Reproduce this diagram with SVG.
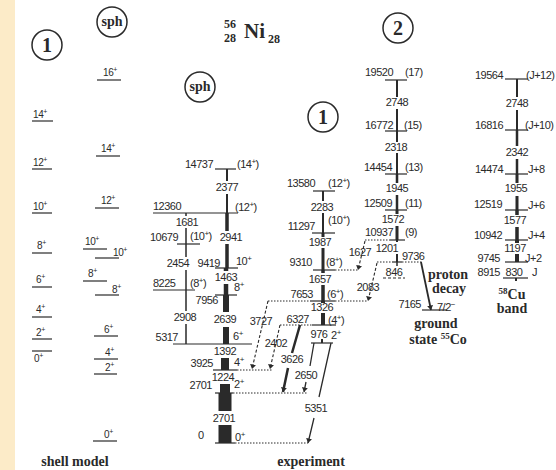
<svg xmlns="http://www.w3.org/2000/svg" width="556" height="470" viewBox="0 0 556 470">
<defs>
<style>
.t{font-family:"Liberation Sans",Arial,sans-serif;font-size:11px;fill:#2a2a2a;letter-spacing:-0.5px}
.s{font-family:"Liberation Sans",Arial,sans-serif;font-size:10px;fill:#2a2a2a;letter-spacing:-0.4px}
.b{font-family:"Liberation Serif","Times New Roman",serif;font-weight:bold;font-size:14px;fill:#2a2a2a}
.m{text-anchor:middle}
.e{text-anchor:end}
.lv{stroke:#2a2a2a;stroke-width:1.2;fill:none}
.dt{stroke:#2a2a2a;stroke-width:1;stroke-dasharray:1.5 1.5;fill:none}
.ds{stroke:#2a2a2a;stroke-width:1.1;stroke-dasharray:3 2;fill:none}
.tr{stroke:#2a2a2a;fill:none}
.c{fill:none;stroke:#2a2a2a;stroke-width:1.5}
</style>
<marker id="ah" viewBox="0 0 6 8" refX="6" refY="4" markerWidth="5" markerHeight="6" markerUnits="userSpaceOnUse" orient="auto"><path d="M0,0L6,4L0,8z" fill="#2a2a2a"/></marker>
</defs>
<rect width="556" height="470" fill="#ffffff"/>
<rect width="15" height="470" fill="#fcebc8"/>

<!-- title -->
<g id="title">
<text class="b" x="224" y="28" style="font-size:12px">56</text>
<text class="b" x="224" y="42" style="font-size:12px">28</text>
<text class="b" x="244" y="38" style="font-size:21px">Ni</text>
<text class="b" x="268" y="43" style="font-size:12px">28</text>
</g>

<!-- circles -->
<g id="circle-1-left"><circle class="c" cx="47" cy="45" r="15"/><text class="b m" x="47" y="52" style="font-size:20px">1</text></g>
<g id="circle-sph-shell"><circle class="c" cx="112" cy="22" r="15"/><text class="b m" x="112" y="26" style="font-size:14px">sph</text></g>
<g id="circle-sph-exp"><circle class="c" cx="200" cy="87" r="15"/><text class="b m" x="200" y="91" style="font-size:14px">sph</text></g>
<g id="circle-1-exp"><circle class="c" cx="323" cy="117" r="15"/><text class="b m" x="323" y="124" style="font-size:20px">1</text></g>
<g id="circle-2"><circle class="c" cx="398" cy="28" r="15"/><text class="b m" x="398" y="35" style="font-size:20px">2</text></g>

<!-- shell model column 1 -->
<g id="sm1">
<g id="sm1-14"><line class="lv" x1="32" y1="121" x2="53" y2="121"/><text class="s" x="33" y="118">14<tspan dy="-4" font-size="7">+</tspan></text></g>
<g id="sm1-12"><line class="lv" x1="32" y1="169" x2="52" y2="169"/><text class="s" x="33" y="166">12<tspan dy="-4" font-size="7">+</tspan></text></g>
<g id="sm1-10"><line class="lv" x1="32" y1="213" x2="52" y2="213"/><text class="s" x="33" y="210">10<tspan dy="-4" font-size="7">+</tspan></text></g>
<g id="sm1-8"><line class="lv" x1="32" y1="253" x2="52" y2="253"/><text class="s" x="37" y="249">8<tspan dy="-4" font-size="7">+</tspan></text></g>
<g id="sm1-6"><line class="lv" x1="32" y1="287" x2="52" y2="287"/><text class="s" x="36" y="283">6<tspan dy="-4" font-size="7">+</tspan></text></g>
<g id="sm1-4"><line class="lv" x1="32" y1="317" x2="52" y2="317"/><text class="s" x="36" y="313">4<tspan dy="-4" font-size="7">+</tspan></text></g>
<g id="sm1-2"><line class="lv" x1="32" y1="339" x2="52" y2="339"/><text class="s" x="36" y="336">2<tspan dy="-4" font-size="7">+</tspan></text></g>
<g id="sm1-0"><line class="lv" x1="32" y1="351" x2="52" y2="351"/><text class="s" x="34" y="362">0<tspan dy="-4" font-size="7">+</tspan></text></g>
</g>

<!-- shell model column sph -->
<g id="sm2">
<g id="sm2-16"><line class="lv" x1="97" y1="80" x2="121" y2="80"/><text class="s" x="103" y="76">16<tspan dy="-4" font-size="7">+</tspan></text></g>
<g id="sm2-14"><line class="lv" x1="96" y1="156" x2="120" y2="156"/><text class="s" x="101" y="152">14<tspan dy="-4" font-size="7">+</tspan></text></g>
<g id="sm2-12"><line class="lv" x1="95" y1="208" x2="119" y2="208"/><text class="s" x="101" y="204">12<tspan dy="-4" font-size="7">+</tspan></text></g>
<g id="sm2-10a"><line class="lv" x1="83" y1="249" x2="107" y2="249"/><text class="s" x="85" y="245">10<tspan dy="-4" font-size="7">+</tspan></text></g>
<g id="sm2-10b"><line class="lv" x1="95" y1="258" x2="119" y2="258"/><text class="s" x="113" y="256">10<tspan dy="-4" font-size="7">+</tspan></text></g>
<g id="sm2-8a"><line class="lv" x1="83" y1="281" x2="107" y2="281"/><text class="s" x="88" y="277">8<tspan dy="-4" font-size="7">+</tspan></text></g>
<g id="sm2-8b"><line class="lv" x1="95" y1="295" x2="119" y2="295"/><text class="s" x="112" y="293">8<tspan dy="-4" font-size="7">+</tspan></text></g>
<g id="sm2-6"><line class="lv" x1="94" y1="336" x2="118" y2="336"/><text class="s" x="104" y="333">6<tspan dy="-4" font-size="7">+</tspan></text></g>
<g id="sm2-4"><line class="lv" x1="94" y1="359" x2="118" y2="359"/><text class="s" x="105" y="356">4<tspan dy="-4" font-size="7">+</tspan></text></g>
<g id="sm2-2"><line class="lv" x1="94" y1="374" x2="117" y2="374"/><text class="s" x="105" y="371">2<tspan dy="-4" font-size="7">+</tspan></text></g>
<g id="sm2-0"><line class="lv" x1="93" y1="441" x2="117" y2="441"/><text class="s" x="104" y="438">0<tspan dy="-4" font-size="7">+</tspan></text></g>
</g>
<text class="b m" x="75" y="466">shell model</text>

<!-- experiment: spherical band levels -->
<g id="sph-levels">
<g id="L14737"><line class="lv" x1="215" y1="169" x2="236" y2="169"/><text class="t e" x="213" y="168">14737</text><text class="t" x="237" y="168">(14<tspan dy="-4" font-size="8">+</tspan><tspan dy="4">)</tspan></text></g>
<g id="L12360"><line class="lv" x1="153" y1="213" x2="238" y2="213"/><text class="t" x="153" y="210">12360</text><text class="t" x="235" y="211">(12<tspan dy="-4" font-size="8">+</tspan><tspan dy="4">)</tspan></text></g>
<g id="L10679"><line class="lv" x1="177" y1="244" x2="200" y2="244"/><text class="t" x="150" y="241">10679</text><text class="t" x="190" y="240">(10<tspan dy="-4" font-size="8">+</tspan><tspan dy="4">)</tspan></text></g>
<g id="L9419"><line class="lv" x1="215" y1="268" x2="238" y2="268"/><text class="t e" x="220" y="267">9419</text><text class="t" x="236" y="265">10<tspan dy="-4" font-size="8">+</tspan></text></g>
<g id="L8225"><line class="lv" x1="153" y1="290" x2="195" y2="290"/><text class="t" x="153" y="287">8225</text><text class="t" x="190" y="287">(8<tspan dy="-4" font-size="8">+</tspan><tspan dy="4">)</tspan></text></g>
<g id="L7956"><line class="lv" x1="215" y1="295" x2="237" y2="295"/><text class="t e" x="218" y="304">7956</text><text class="t" x="234" y="291">8<tspan dy="-4" font-size="8">+</tspan></text></g>
<g id="L5317"><line class="lv" x1="173" y1="344" x2="252" y2="344"/><text class="t e" x="178" y="341">5317</text><text class="t" x="233" y="340">6<tspan dy="-4" font-size="8">+</tspan></text></g>
<g id="L3925"><line class="lv" x1="213" y1="370" x2="237" y2="370"/><line class="dt" x1="237" y1="370" x2="272" y2="370"/><text class="t e" x="213" y="367">3925</text><text class="t" x="234" y="366">4<tspan dy="-4" font-size="8">+</tspan></text></g>
<g id="L2701"><line class="lv" x1="215" y1="393" x2="233" y2="393"/><line class="dt" x1="233" y1="393" x2="307" y2="393"/><text class="t e" x="212" y="389">2701</text><text class="t" x="234" y="388">2<tspan dy="-4" font-size="8">+</tspan></text></g>
<g id="L0"><line class="lv" x1="215" y1="443" x2="235" y2="443"/><line class="dt" x1="235" y1="443" x2="308" y2="443"/><text class="t" x="198" y="439">0</text><text class="t" x="235" y="441">0<tspan dy="-4" font-size="8">+</tspan></text></g>
</g>

<!-- band 1 levels -->
<g id="band1-levels">
<g id="L13580"><line class="lv" x1="313" y1="191" x2="335" y2="191"/><text class="t e" x="315" y="187">13580</text><text class="t" x="328" y="187">(12<tspan dy="-4" font-size="8">+</tspan><tspan dy="4">)</tspan></text></g>
<g id="L11297"><line class="lv" x1="312" y1="233" x2="335" y2="233"/><text class="t e" x="315" y="230">11297</text><text class="t" x="328" y="224">(10<tspan dy="-4" font-size="8">+</tspan><tspan dy="4">)</tspan></text></g>
<g id="L9310"><line class="lv" x1="313" y1="270" x2="335" y2="270"/><line class="dt" x1="335" y1="270" x2="358" y2="270"/><text class="t e" x="312" y="266">9310</text><text class="t" x="326" y="266">(8<tspan dy="-4" font-size="8">+</tspan><tspan dy="4">)</tspan></text></g>
<g id="L7653"><line class="dt" x1="268" y1="301" x2="310" y2="301"/><line class="lv" x1="310" y1="301" x2="335" y2="301"/><line class="dt" x1="335" y1="301" x2="368" y2="301"/><text class="t e" x="313" y="298">7653</text><text class="t" x="327" y="298">(6<tspan dy="-4" font-size="8">+</tspan><tspan dy="4">)</tspan></text></g>
<g id="L6327"><line class="dt" x1="280" y1="325" x2="312" y2="325"/><line class="lv" x1="312" y1="325" x2="336" y2="325"/><text class="t e" x="309" y="323">6327</text><text class="t" x="328" y="324">(4<tspan dy="-4" font-size="8">+</tspan><tspan dy="4">)</tspan></text></g>
<g id="L5351"><line class="lv" x1="311" y1="343" x2="333" y2="343"/><text class="t m" x="319" y="338">976</text><text class="t" x="331" y="339">2<tspan dy="-4" font-size="8">+</tspan></text></g>
</g>

<!-- band 2 levels -->
<g id="band2-levels">
<g id="L19520"><line class="lv" x1="385" y1="80" x2="407" y2="80"/><text class="t e" x="393" y="76">19520</text><text class="t" x="405" y="76">(17)</text></g>
<g id="L16772"><line class="lv" x1="385" y1="131" x2="407" y2="131"/><text class="t e" x="393" y="129">16772</text><text class="t" x="404" y="129">(15)</text></g>
<g id="L14454"><line class="lv" x1="385" y1="174" x2="407" y2="174"/><text class="t e" x="392" y="171">14454</text><text class="t" x="405" y="171">(13)</text></g>
<g id="L12509"><line class="lv" x1="385" y1="210" x2="407" y2="210"/><text class="t e" x="392" y="207">12509</text><text class="t" x="405" y="207">(11)</text></g>
<g id="L10937"><line class="dt" x1="365" y1="240" x2="390" y2="240"/><line class="lv" x1="390" y1="240" x2="405" y2="240"/><text class="t e" x="393" y="236">10937</text><text class="t" x="405" y="236">(9)</text></g>
<g id="L9736"><line class="dt" x1="377" y1="262" x2="392" y2="262"/><line class="lv" x1="392" y1="262" x2="402" y2="262"/><line class="dt" x1="402" y1="262" x2="422" y2="262"/><text class="t" x="402" y="260">9736</text></g>
<g id="L8890"><line class="ds" x1="383" y1="278" x2="405" y2="278"/><text class="t m" x="394" y="276">846</text></g>
<g id="L7165"><line class="lv" x1="422" y1="310" x2="447" y2="310"/><text class="t e" x="421" y="308">7165</text><text class="t" x="437" y="311">7/2<tspan dy="-4" font-size="8">−</tspan></text></g>
</g>
<text class="b m" x="448" y="279">proton</text>
<text class="b m" x="449" y="293">decay</text>
<text class="b m" x="436" y="328">ground</text>
<text class="b m" x="438" y="344">state <tspan dy="-5" font-size="9">55</tspan><tspan dy="5">Co</tspan></text>

<!-- Cu band levels -->
<g id="cu-levels">
<g id="L19564"><line class="lv" x1="505" y1="79" x2="528" y2="79"/><text class="t e" x="503" y="79">19564</text><text class="t" x="526" y="79">(J+12)</text></g>
<g id="L16816"><line class="lv" x1="505" y1="130" x2="528" y2="130"/><text class="t e" x="503" y="129">16816</text><text class="t" x="525" y="129">(J+10)</text></g>
<g id="L14474"><line class="lv" x1="505" y1="174" x2="528" y2="174"/><text class="t e" x="503" y="173">14474</text><text class="t" x="528" y="173">J+8</text></g>
<g id="L12519"><line class="lv" x1="505" y1="210" x2="528" y2="210"/><text class="t e" x="502" y="208">12519</text><text class="t" x="528" y="209">J+6</text></g>
<g id="L10942"><line class="lv" x1="505" y1="240" x2="528" y2="240"/><text class="t e" x="502" y="239">10942</text><text class="t" x="528" y="239">J+4</text></g>
<g id="L9745"><line class="lv" x1="505" y1="262" x2="528" y2="262"/><text class="t e" x="500" y="262">9745</text><text class="t" x="525" y="262">J+2</text></g>
<g id="L8915"><line class="lv" x1="503" y1="278" x2="528" y2="278"/><text class="t e" x="500" y="276">8915</text><text class="t" x="532" y="276">J</text></g>
</g>
<text class="b m" x="512" y="299"><tspan dy="-5" font-size="9">58</tspan><tspan dy="5">Cu</tspan></text>
<text class="b m" x="512" y="313">band</text>
<text class="b m" x="311" y="466">experiment</text>

<!-- connectors (transitions) -->
<g id="connectors">
<path class="tr" stroke-width="2" d="M227,169V181M227,194V213"/>
<path class="tr" stroke-width="3.5" d="M227,213V231M227,244V268"/>
<path class="tr" stroke-width="4.5" d="M226,268V271M226,284V295"/>
<path class="tr" stroke-width="6" d="M226,295V312M226,327V344"/>
<path class="tr" stroke-width="8" d="M225,358V370"/>
<path class="tr" stroke-width="10" d="M225,384V393"/>
<path class="tr" stroke-width="13" d="M225,393V411M225,425V443"/>
<path class="tr" stroke-width="1.5" d="M186,213V216M186,228V244M186,244V257M186,270V290M186,290V311M186,324V344"/>
<path class="tr" stroke-width="2" d="M323,191V201M323,213V233"/>
<path class="tr" stroke-width="3" d="M323,233V237M323,248V270"/>
<path class="tr" stroke-width="3.5" d="M323,270V273M323,285V301"/>
<path class="tr" stroke-width="4" d="M323,301V303M323,313V325"/>
<path class="tr" stroke-width="2" d="M322,339V343"/>
<line class="ds" x1="268" y1="301" x2="252" y2="369" marker-end="url(#ah)"/>
<line class="ds" x1="280" y1="325" x2="270" y2="369" marker-end="url(#ah)"/>
<path class="tr" stroke-width="2.5" d="M300,325L292,353M288,368L283,392" marker-end="url(#ah)"/>
<path class="tr" stroke-width="1.3" d="M314,343L310,366M306,382L304,392" marker-end="url(#ah)"/>
<path class="tr" stroke-width="1.3" d="M331,343L319,397M314,418L308,443" marker-end="url(#ah)"/>
<line class="ds" x1="365" y1="241" x2="358" y2="270" marker-end="url(#ah)"/>
<line class="ds" x1="377" y1="263" x2="368" y2="301" marker-end="url(#ah)"/>
<path class="tr" stroke-width="2" d="M397,80V97M397,109V131"/>
<path class="tr" stroke-width="2" d="M397,131V142M397,153V174"/>
<path class="tr" stroke-width="2.5" d="M397,174V183M397,195V210"/>
<path class="tr" stroke-width="3" d="M397,210V214M397,226V240"/>
<path class="tr" stroke-width="2" d="M397,240V242M397,254V262"/>
<path class="tr" stroke-width="1.5" d="M397,262V266"/>
<line class="tr" stroke-width="1.8" x1="421" y1="262" x2="431" y2="310" marker-end="url(#ah)"/>
<path class="tr" stroke-width="2" d="M517,79V97M517,110V130"/>
<path class="tr" stroke-width="2.5" d="M517,130V146M517,159V174"/>
<path class="tr" stroke-width="3" d="M517,174V183M517,196V210"/>
<path class="tr" stroke-width="3.5" d="M517,210V215M517,227V240"/>
<path class="tr" stroke-width="4" d="M517,240V243M517,254V262"/>
<path class="tr" stroke-width="2" d="M516,278V281"/>
</g>

<!-- transition labels -->
<g id="transition-labels">
<text class="t m" x="227" y="191">2377</text>
<text class="t m" x="187" y="226">1681</text>
<text class="t m" x="231" y="241">2941</text>
<text class="t m" x="178" y="267">2454</text>
<text class="t m" x="226" y="281">1463</text>
<text class="t m" x="185" y="321">2908</text>
<text class="t m" x="225" y="323">2639</text>
<text class="t m" x="225" y="355">1392</text>
<text class="t m" x="223" y="381">1224</text>
<text class="t m" x="224" y="422">2701</text>
<text class="t m" x="322" y="211">2283</text>
<text class="t m" x="320" y="246">1987</text>
<text class="t m" x="360" y="256">1627</text>
<text class="t m" x="320" y="283">1657</text>
<text class="t m" x="368" y="291">2083</text>
<text class="t m" x="322" y="311">1326</text>
<text class="t m" x="261" y="325">3727</text>
<text class="t m" x="276" y="347">2402</text>
<text class="t m" x="292" y="363">3626</text>
<text class="t m" x="306" y="379">2650</text>
<text class="t m" x="316" y="412">5351</text>
<text class="t m" x="397" y="106">2748</text>
<text class="t m" x="396" y="151">2318</text>
<text class="t m" x="397" y="192">1945</text>
<text class="t m" x="393" y="223">1572</text>
<text class="t m" x="387" y="252">1201</text>
<text class="t m" x="517" y="107">2748</text>
<text class="t m" x="517" y="156">2342</text>
<text class="t m" x="516" y="192">1955</text>
<text class="t m" x="515" y="224">1577</text>
<text class="t m" x="515" y="252">1197</text>
<text class="t m" x="514" y="276">830</text>
</g>
</svg>
